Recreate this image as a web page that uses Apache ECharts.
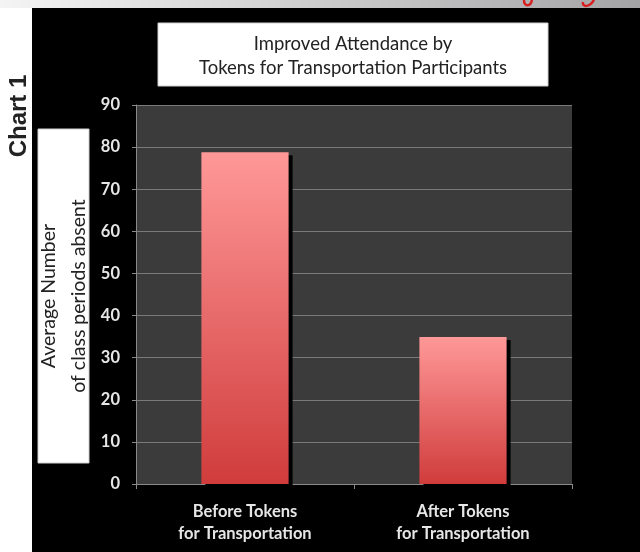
<!DOCTYPE html>
<html>
<head>
<meta charset="utf-8">
<script src="https://cdn.jsdelivr.net/npm/echarts@6/dist/echarts.min.js"></script>
<style>
html,body{margin:0;padding:0;background:#fff;}
#c{width:640px;height:552px;}
</style>
</head>
<body>
<div id="c"></div>
<script>
var categories = ['Before Tokens\nfor Transportation', 'After Tokens\nfor Transportation'];
var absentValues = [78.8, 34.9];
var titleLines = ['Improved Attendance by', 'Tokens for Transportation Participants'];
var yAxisTitle = ['Average Number', 'of class periods absent'];
var sideLabel = 'Chart 1';

var chart = echarts.init(document.getElementById('c'));
var F = 'Lato, "Open Sans", sans-serif';
chart.setOption({
  animation: false,
  backgroundColor: '#ffffff',
  grid: {left: 136, right: 68, top: 105, bottom: 68, show: true, backgroundColor: '#3b3b3b', borderWidth: 0},
  xAxis: {
    type: 'category',
    data: categories,
    axisLine: {lineStyle: {color: '#8a8a8a', width: 1}},
    axisTick: {show: true, length: 5, lineStyle: {color: '#8a8a8a'}},
    axisLabel: {color: '#e6e6e6', fontFamily: F, fontWeight: 'bold', fontSize: 16.5, lineHeight: 22, margin: 17}
  },
  yAxis: {
    type: 'value', min: 0, max: 90, interval: 10,
    axisLine: {show: true, lineStyle: {color: '#8a8a8a', width: 1}},
    axisTick: {show: true, length: 4, lineStyle: {color: '#8a8a8a'}},
    axisLabel: {color: '#e6e6e6', fontFamily: F, fontWeight: 'bold', fontSize: 16.5, margin: 16},
    splitLine: {lineStyle: {color: '#7a7a7a', width: 1}}
  },
  series: [{
    type: 'bar',
    data: absentValues,
    barWidth: '40%',
    itemStyle: {
      color: new echarts.graphic.LinearGradient(0, 0, 0, 1, [
        {offset: 0, color: '#ff9898'},
        {offset: 1, color: '#d03c3c'}
      ]),
      shadowColor: '#000000',
      shadowBlur: 0,
      shadowOffsetX: 4,
      shadowOffsetY: 3
    }
  }],
  graphic: [
    {type: 'rect', z: -10, shape: {x: 0, y: 0, width: 640, height: 8},
     style: {fill: new echarts.graphic.LinearGradient(0, 0, 1, 0, [{offset: 0, color: '#f4f4f4'}, {offset: 1, color: '#a4a4a6'}])}},
    {type: 'rect', z: -9, shape: {x: 32, y: 8, width: 608, height: 544}, style: {fill: '#000000'}},
    {type: 'bezierCurve', shape: {x1: 524, y1: 0, cpx1: 524, cpy1: 6, cpx2: 530, cpy2: 8, x2: 532, y2: 0}, style: {stroke: '#d81e1e', lineWidth: 2.5, fill: null}},
    {type: 'bezierCurve', shape: {x1: 583, y1: 2, cpx1: 582, cpy1: 8, cpx2: 590, cpy2: 7, x2: 594, y2: 0}, style: {stroke: '#d81e1e', lineWidth: 2.5, fill: null}},
    {type: 'text', z: 10, x: 19, y: 116, rotation: Math.PI / 2,
     style: {text: sideLabel, font: 'bold 24px "Liberation Sans Narrow", "Liberation Sans", Arial, sans-serif', fill: '#222222', textAlign: 'center', textVerticalAlign: 'middle'}},
    {type: 'rect', z: 5, shape: {x: 158, y: 23, width: 390, height: 63}, style: {fill: '#ffffff', stroke: '#cfcfcf', lineWidth: 1}},
    {type: 'text', z: 6, x: 353, y: 56,
     style: {text: titleLines.join('\n'), font: '18.5px ' + F, fill: '#222222', textAlign: 'center', textVerticalAlign: 'middle', lineHeight: 24}},
    {type: 'rect', z: 5, shape: {x: 38, y: 129, width: 51, height: 334}, style: {fill: '#ffffff', stroke: '#cfcfcf', lineWidth: 1}},
    {type: 'text', z: 6, x: 64, y: 296, rotation: Math.PI / 2,
     style: {text: yAxisTitle.join('\n'), font: '19.5px ' + F, fill: '#222222', textAlign: 'center', textVerticalAlign: 'middle', lineHeight: 30}}
  ]
});
</script>
</body>
</html>
